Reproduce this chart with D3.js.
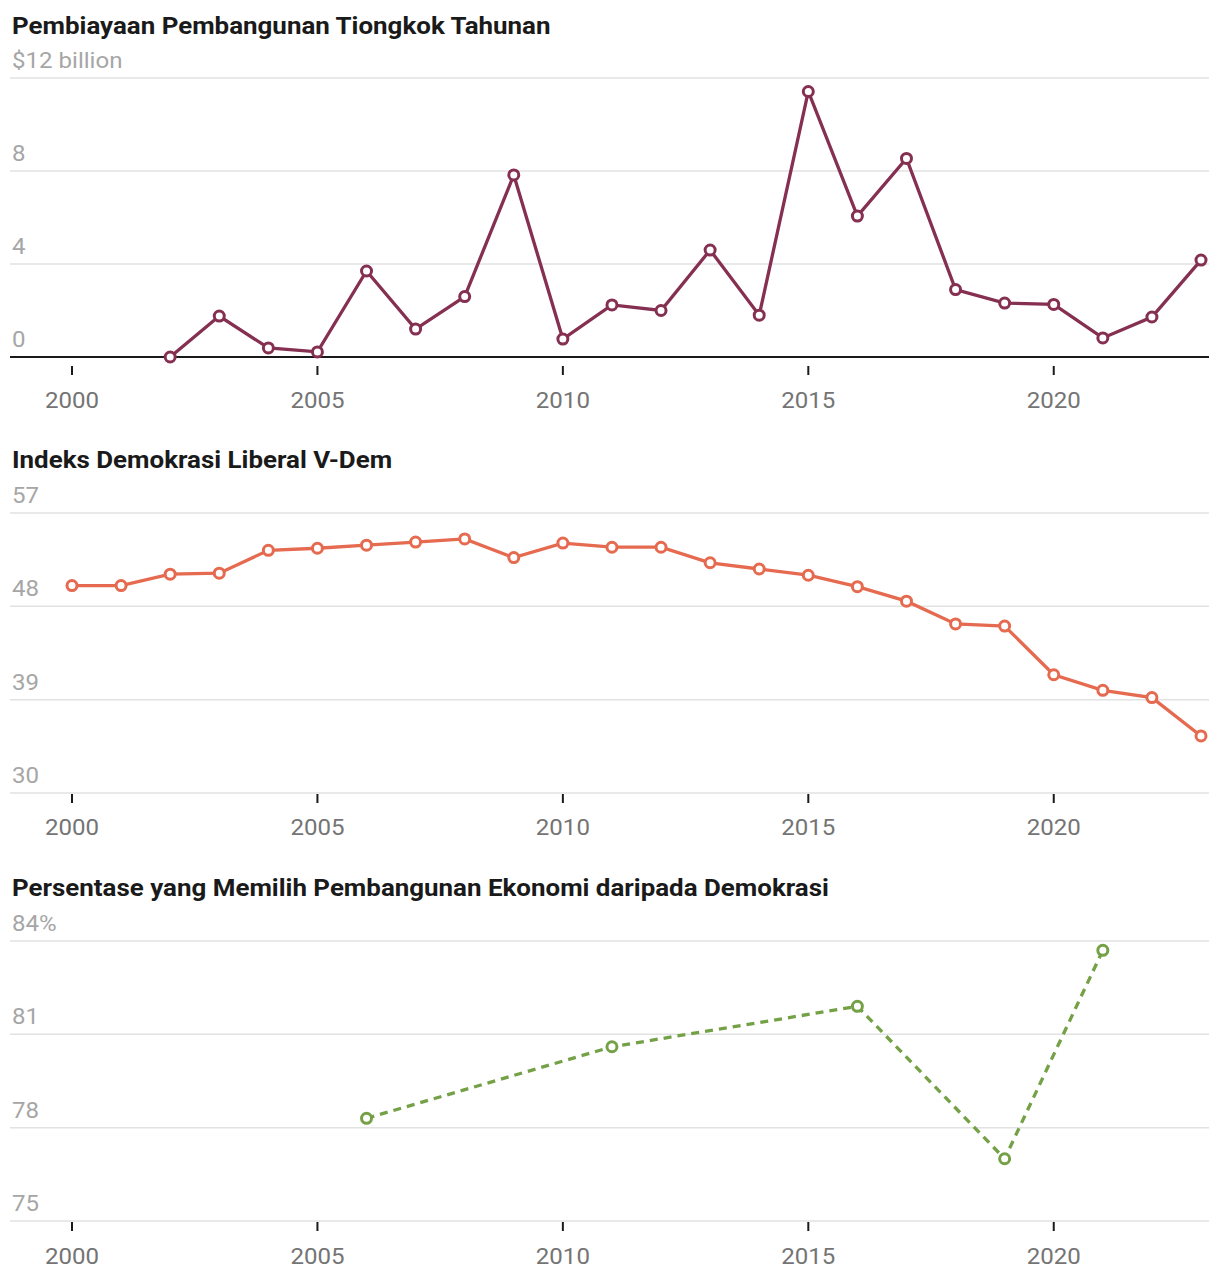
<!DOCTYPE html>
<html>
<head>
<meta charset="utf-8">
<script src="https://cdn.jsdelivr.net/npm/d3@7"></script>
<style>
  body { margin: 0; background: #fff; }
  text { font-family: Roboto, "Noto Sans", sans-serif; }
</style>
</head>
<body>
<div id="chart"></div>
<script>
const years = d3.range(2000, 2024)
const xTicks = [2000, 2005, 2010, 2015, 2020]

// pembiayaan, $ billion (2002-2023)
const financeYears = d3.range(2002, 2024)
const financeValues = [0, 1.76, 0.39, 0.22, 3.7, 1.2, 2.6, 7.83, 0.77, 2.24, 2.0,
                       4.6, 1.8, 11.42, 6.06, 8.54, 2.9, 2.32, 2.26, 0.82, 1.72, 4.17]
const financeTicks = [0, 4, 8, 12]

// V-Dem indeks
const vdemValues = [50.0, 50.0, 51.1, 51.2, 53.4, 53.6, 53.9, 54.2, 54.5, 52.7, 54.1, 53.7,
                    53.7, 52.2, 51.6, 51.0, 49.9, 48.5, 46.3, 46.1, 41.4, 39.9, 39.2, 35.5]
const vdemTicks = [30, 39, 48, 57]

// persentase pilih ekonomi
const surveyYears = [2006, 2011, 2016, 2019, 2021]
const surveyValues = [78.3, 80.6, 81.9, 77.0, 83.7]
const surveyTicks = [75, 78, 81, 84]

const svg = d3.select("#chart")
              .append("svg")
              .attr("width", 1220)
              .attr("height", 1282)

const x = d3.scaleLinear().domain([2000, 2023]).range([72, 1201])
const left = 10, right = 1209

// text in the original runs a bit wider than Roboto, stretch it
const place = (px, py, sx) => `translate(${px},${py}) scale(${sx},1)`

function panel(opts) {
  const g = svg.append("g")
  const y = d3.scaleLinear().domain(opts.domain).range([opts.bottom, opts.top])

  g.append("text")
   .attr("transform", place(12, opts.titleY, 1.08))
   .attr("font-size", 24).attr("font-weight", 700).attr("fill", "#1a1a1a")
   .text(opts.title)

  g.selectAll(".grid")
   .data(opts.ticks)
   .enter()
   .append("line")
   .attr("x1", left).attr("x2", right)
   .attr("y1", d => y(d)).attr("y2", d => y(d))
   .attr("stroke", "#e2e2e2").attr("stroke-width", 1.5)

  g.selectAll(".ylab")
   .data(opts.ticks)
   .enter()
   .append("text")
   .attr("transform", d => place(12, y(d) - 10, 1.12))
   .attr("font-size", 21.5).attr("fill", "#a6a6a6")
   .text(opts.fmt)

  if (opts.baseline) {
    g.append("line")
     .attr("x1", left).attr("x2", right)
     .attr("y1", y(0)).attr("y2", y(0))
     .attr("stroke", "#1a1a1a").attr("stroke-width", 2)
  }

  g.selectAll(".tick")
   .data(xTicks)
   .enter()
   .append("line")
   .attr("x1", d => x(d)).attr("x2", d => x(d))
   .attr("y1", opts.bottom + opts.tickGap).attr("y2", opts.bottom + opts.tickGap + 9)
   .attr("stroke", "#1a1a1a").attr("stroke-width", 2)

  g.selectAll(".xlab")
   .data(xTicks)
   .enter()
   .append("text")
   .attr("transform", d => place(x(d), opts.bottom + opts.labelGap, 1.12))
   .attr("text-anchor", "middle")
   .attr("font-size", 21.5).attr("fill", "#747474")
   .text(d => d)

  const pts = opts.xs.map((d, i) => [d, opts.values[i]])
  const line = d3.line().x(d => x(d[0])).y(d => y(d[1]))

  g.append("path")
   .datum(pts)
   .attr("d", line)
   .attr("fill", "none")
   .attr("stroke", opts.color)
   .attr("stroke-width", 3.3)
   .attr("stroke-dasharray", opts.dash || null)

  g.selectAll(".dot")
   .data(pts)
   .enter()
   .append("circle")
   .attr("cx", d => x(d[0])).attr("cy", d => y(d[1]))
   .attr("r", 5)
   .attr("fill", "white")
   .attr("stroke", opts.color)
   .attr("stroke-width", 3)
}

panel({
  title: "Pembiayaan Pembangunan Tiongkok Tahunan",
  titleY: 34, top: 78, bottom: 357, domain: [0, 12],
  ticks: financeTicks, fmt: d => d === 12 ? "$12 billion" : d,
  baseline: true, tickGap: 9, labelGap: 51,
  xs: financeYears, values: financeValues, color: "#852f51"
})

panel({
  title: "Indeks Demokrasi Liberal V-Dem",
  titleY: 468, top: 513, bottom: 793, domain: [30, 57],
  ticks: vdemTicks, fmt: d => d,
  tickGap: 1, labelGap: 42,
  xs: years, values: vdemValues, color: "#e56a4f"
})

panel({
  title: "Persentase yang Memilih Pembangunan Ekonomi daripada Demokrasi",
  titleY: 896, top: 941, bottom: 1221, domain: [75, 84],
  ticks: surveyTicks, fmt: d => d === 84 ? "84%" : d,
  tickGap: 1, labelGap: 43,
  xs: surveyYears, values: surveyValues, color: "#74a046", dash: "8,6"
})
</script>
</body>
</html>
